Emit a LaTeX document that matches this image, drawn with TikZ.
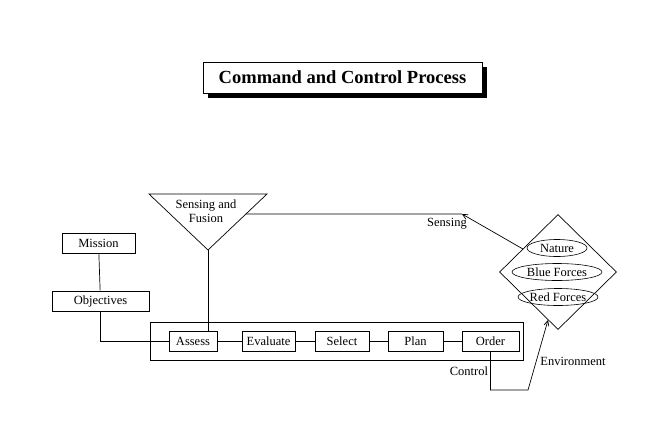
\documentclass[tikz,border=0pt]{standalone}
\usepackage{fontspec}
\setmainfont{Liberation Serif}
\usepackage{tikz}
\usetikzlibrary{shapes.geometric, arrows.meta, positioning, calc, shadows}
\tikzset{
	stepbox/.style ={rectangle, draw=black, line width=0.7pt, minimum height=20pt, inner sep=1pt, align=center},
	outerbox/.style={rectangle, draw=black, line width=0.7pt, minimum width=373pt, minimum height=38pt},
	ent/.style     ={ellipse, draw=black, line width=0.6pt, minimum height=17pt, inner sep=0pt},
	envbox/.style  ={diamond, draw=black, line width=0.7pt, minimum width=117pt, minimum height=115pt, inner sep=0pt},
	link/.style    ={line width=0.7pt},
	sig/.style     ={-{Straight Barb[length=5pt, width=5pt]}, line width=0.7pt},
}

\begin{document}
\begin{tikzpicture}[x=1pt, y=-1pt, font=\fontsize{12.5}{13.5}\selectfont]
	\useasboundingbox (0,0) rectangle (672,440);
	% title
	\node[draw, line width=0.8pt, fill=white, minimum width=279pt, minimum height=31pt,
		drop shadow={shadow xshift=5pt, shadow yshift=-5pt, fill=black, opacity=1},
		font=\bfseries\fontsize{18.5}{21}\selectfont] (title) at (342.5,77.5) {Command and Control Process};
	% left side
	\node[stepbox, minimum width=73pt] (mis) at (98.5,243) {Mission};
	\node[stepbox, minimum width=97pt] (obj) at (100.5,301) {Objectives};
	% process chain
	\node[outerbox] (proc) at (336.5,341) {};
	\node[stepbox, minimum width=48pt] (ass) at (193,341) {Assess};
	\node[stepbox, minimum width=53pt] (eva) at (268.5,341) {Evaluate};
	\node[stepbox, minimum width=54pt] (sel) at (342,341) {Select};
	\node[stepbox, minimum width=55pt] (pla) at (415.5,341) {Plan};
	\node[stepbox, minimum width=57pt] (ord) at (490.5,341) {Order};
	% sensing and fusion
	\coordinate (sfl) at (149,194); \coordinate (sfr) at (267,194); \coordinate (sfb) at (208,250);
	\draw[link] (sfl) -- (sfr) -- (sfb) -- cycle;
	\node[align=center] (sf) at (206,211) {Sensing and\\Fusion};
	% environment
	\node[envbox] (env) at (558,272) {};
	\node[ent, minimum width=60pt] (nat) at (557,248) {Nature};
	\node[ent, minimum width=90pt] (blu) at (557,272) {Blue Forces};
	\node[ent, minimum width=70pt] (red) at (558,297) {Red Forces};
	% connectors
	\draw[link] (mis) -- (obj);
	\draw[link] (obj.south) |- (ass.west);
	\draw[link] (ass) -- (eva); \draw[link] (eva) -- (sel); \draw[link] (sel) -- (pla); \draw[link] (pla) -- (ord);
	\draw[link] (sfb) -- (sfb |- ass.north);
	\coordinate (sx) at ($(sfr)!0.357!(sfb)$);
	\coordinate (sc) at (462,214);
	\draw[link] (sx) -- (sc);
	\draw[sig] ($(env.west)!0.4!(env.north)$) -- (sc);
	\node (sen) at (447,224) {Sensing};
	\coordinate (cc) at (528,390);
	\draw[sig] (ord.south) |- (cc) -- ($(env.west)!0.83!(env.south)$);
	\node (ctl) at (469,371) {Control};
	\node (envl) at (573,361) {Environment};
\end{tikzpicture}
\end{document}
